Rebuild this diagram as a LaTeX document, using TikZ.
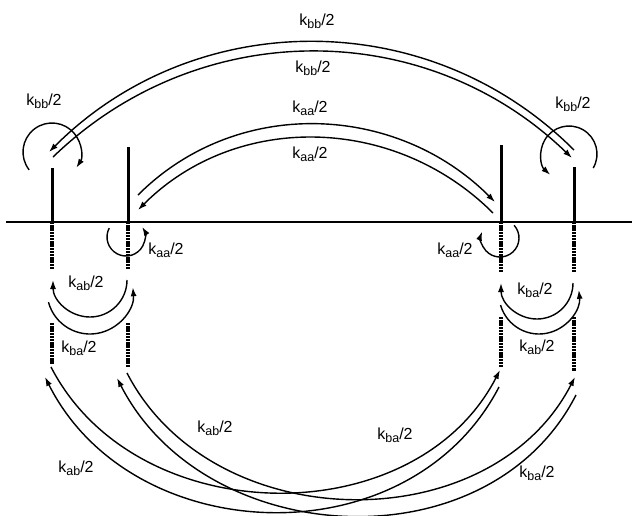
\documentclass[tikz,border=0pt]{standalone}
\usepackage{fontspec}
\setmainfont{Liberation Sans}
\usetikzlibrary{arrows.meta}
\newcommand\klab[1]{k\raisebox{-3.2pt}{\fontsize{12.5}{13}\selectfont #1}/2}
\newcommand\mydotseg[2]{\foreach \dd in {0,3.2,...,#2} {\fill ([xshift=-1.6pt,yshift=-\dd pt]#1) rectangle ++(3.2pt,-2.3pt);}}
\begin{document}
\begin{tikzpicture}[x=1pt,y=1pt,
  ln/.style={line width=1.4pt},
  arr/.style={ln,-{Latex[length=9pt,width=6pt]}},
  post/.style={line width=3pt},
  lbl/.style={font=\fontsize{16}{18}\selectfont, inner sep=0pt}]
\useasboundingbox (0,0) rectangle (632,-515);
% baseline
\coordinate (bl) at (6,-222);
\coordinate (br) at (632,-222);
\draw[line width=2pt] (bl) -- (br);
% posts
\coordinate (p1t) at (52,-168);  \coordinate (p1) at (52,-222);
\coordinate (p2t) at (128,-147); \coordinate (p2) at (128,-222);
\coordinate (p3t) at (501,-145); \coordinate (p3) at (501,-222);
\coordinate (p4t) at (574,-167); \coordinate (p4) at (574,-222);
\draw[post] (p1t) -- (p1);
\draw[post] (p2t) -- (p2);
\draw[post] (p3t) -- (p3);
\draw[post] (p4t) -- (p4);
% dotted continuations
\coordinate (d1b) at (52,-323);
\coordinate (d2b) at (128,-323);
\coordinate (d3b) at (501,-317);
\coordinate (d4b) at (574,-317);
\mydotseg{p1}{47}  \mydotseg{d1b}{41}
\mydotseg{p2}{47}  \mydotseg{d2b}{44}
\mydotseg{p3}{50}  \mydotseg{d3b}{50}
\mydotseg{p4}{50}  \mydotseg{d4b}{52}
% top arcs
\coordinate (bbOa) at (574,-150); \coordinate (bbOb) at (49,-152);
\coordinate (bbIa) at (53,-157);  \coordinate (bbIb) at (572,-158);
\coordinate (aaOa) at (138,-195); \coordinate (aaOb) at (495,-202);
\coordinate (aaIa) at (493,-213); \coordinate (aaIb) at (138,-210);
\draw[arr] (bbOa) to[out=135,in=45] (bbOb);
\draw[arr] (bbIa) to[out=44,in=136] (bbIb);
\draw[arr] (aaOa) to[out=45,in=135] (aaOb);
\draw[arr] (aaIa) to[out=135,in=45] (aaIb);
% loops
\coordinate (cTL) at (52,-152);
\coordinate (cTR) at (569,-154);
\coordinate (cAL) at (126,-237);
\coordinate (cAR) at (500,-238);
\draw[arr] ([shift={(218:29pt)}]cTL) arc[start angle=218,end angle=-33,radius=29pt];
\draw[arr] ([shift={(-30:28pt)}]cTR) arc[start angle=-30,end angle=228,radius=28pt];
\draw[arr] ([shift={(152:19pt)}]cAL) arc[start angle=152,end angle=392,radius=19pt];
\draw[arr] ([shift={(42:19pt)}]cAR) arc[start angle=42,end angle=-200,radius=19pt];
% small pairs
\coordinate (cL1) at (90,-280);
\coordinate (cL2) at (90,-291);
\coordinate (cR1) at (537,-283);
\coordinate (cR2) at (539,-294);
\draw[arr] ([shift={(0:37pt)}]cL1) arc[start angle=0,end angle=-180,radius=37pt];
\draw[arr] ([shift={(195:43pt)}]cL2) arc[start angle=195,end angle=365,radius=43pt];
\draw[arr] ([shift={(0:36pt)}]cR1) arc[start angle=0,end angle=-180,radius=36pt];
\draw[arr] ([shift={(196:40pt)}]cR2) arc[start angle=196,end angle=366,radius=40pt];
% bottom crossing arcs
\coordinate (o1s) at (499,-387); \coordinate (o1e) at (45,-377);
\coordinate (i1s) at (51,-367);  \coordinate (i1e) at (500,-370);
\coordinate (i2s) at (127,-373); \coordinate (i2e) at (575,-377);
\coordinate (o2s) at (576,-395); \coordinate (o2e) at (117,-378);
\draw[arr] (o1s) .. controls (409,-560) and (132,-550) .. (o1e);
\draw[arr] (i1s) .. controls (136,-532) and (415,-535) .. (i1e);
\draw[arr] (i2s) .. controls (212,-538) and (490,-542) .. (i2e);
\draw[arr] (o2s) .. controls (488,-567) and (205,-550) .. (o2e);
% labels
\node[lbl] (t1) at (317,-21) {\klab{bb}};
\node[lbl] (t2) at (313,-68) {\klab{bb}};
\node[lbl] (t3) at (310,-108) {\klab{aa}};
\node[lbl] (t4) at (310,-154) {\klab{aa}};
\node[lbl] (t5) at (44,-101) {\klab{bb}};
\node[lbl] (t6) at (573,-104) {\klab{bb}};
\node[lbl] (t7) at (166,-250) {\klab{aa}};
\node[lbl] (t8) at (455,-250) {\klab{aa}};
\node[lbl] (t9) at (86,-283) {\klab{ab}};
\node[lbl] (t10) at (79,-348) {\klab{ba}};
\node[lbl] (t11) at (535,-290) {\klab{ba}};
\node[lbl] (t12) at (537,-347) {\klab{ab}};
\node[lbl] (t13) at (76,-468) {\klab{ab}};
\node[lbl] (t14) at (215,-428) {\klab{ab}};
\node[lbl] (t15) at (395,-435) {\klab{ba}};
\node[lbl] (t16) at (537,-473) {\klab{ba}};
\end{tikzpicture}
\end{document}
